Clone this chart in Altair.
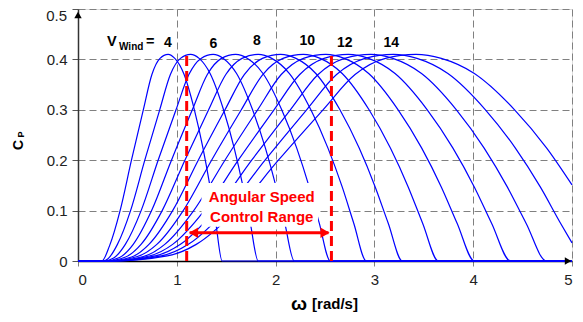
import altair as alt
import pandas as pd

FONT = "Liberation Sans"
BLUE = "#0000FF"
RED = "#FF0000"

# wind speeds (m/s)
V_WIND = [4, 5, 6, 7, 8, 9, 10, 11, 12, 13, 14, 15]

# omega [rad/s] and Cp for each wind speed
W4 = [0, 0.241, 0.319, 0.426, 0.541, 0.661, 0.748, 0.830, 0.912, 0.980, 1.070, 1.178, 1.265, 1.337, 1.395, 1.459, 5.0]
CP4 = [0, 0, 0.03, 0.1, 0.2, 0.3, 0.37, 0.402, 0.41, 0.402, 0.372, 0.30, 0.224, 0.147, 0.075, 0, 0]
W5 = [0, 0.25, 0.301, 0.399, 0.532, 0.676, 0.827, 0.935, 1.037, 1.14, 1.226, 1.337, 1.473, 1.581, 1.671, 1.744, 1.824, 5.0]
CP5 = [0, 0, 0.004, 0.033, 0.1, 0.2, 0.3, 0.37, 0.402, 0.41, 0.402, 0.372, 0.30, 0.224, 0.147, 0.075, 0, 0]
W6 = [0, 0.26, 0.361, 0.479, 0.639, 0.811, 0.992, 1.122, 1.245, 1.368, 1.471, 1.605, 1.767, 1.897, 2.005, 2.093, 2.189, 5.0]
CP6 = [0, 0, 0.006, 0.033, 0.1, 0.2, 0.3, 0.37, 0.402, 0.41, 0.402, 0.372, 0.30, 0.224, 0.147, 0.075, 0, 0]
W7 = [0, 0.27, 0.421, 0.559, 0.745, 0.946, 1.157, 1.309, 1.452, 1.596, 1.716, 1.872, 2.062, 2.214, 2.340, 2.442, 2.554, 5.0]
CP7 = [0, 0, 0.007, 0.033, 0.1, 0.2, 0.3, 0.37, 0.402, 0.41, 0.402, 0.372, 0.30, 0.224, 0.147, 0.075, 0, 0]
W8 = [0, 0.28, 0.482, 0.638, 0.852, 1.082, 1.322, 1.496, 1.660, 1.824, 1.961, 2.140, 2.357, 2.530, 2.674, 2.791, 2.918, 5.0]
CP8 = [0, 0, 0.008, 0.033, 0.1, 0.2, 0.3, 0.37, 0.402, 0.41, 0.402, 0.372, 0.30, 0.224, 0.147, 0.075, 0, 0]
W9 = [0, 0.29, 0.542, 0.718, 0.958, 1.217, 1.488, 1.683, 1.867, 2.052, 2.206, 2.407, 2.651, 2.846, 3.008, 3.140, 3.283, 5.0]
CP9 = [0, 0, 0.008, 0.033, 0.1, 0.2, 0.3, 0.37, 0.402, 0.41, 0.402, 0.372, 0.30, 0.224, 0.147, 0.075, 0, 0]
W10 = [0, 0.30, 0.602, 0.798, 1.065, 1.352, 1.653, 1.870, 2.075, 2.28, 2.451, 2.674, 2.946, 3.162, 3.342, 3.488, 3.648, 5.0]
CP10 = [0, 0, 0.009, 0.033, 0.1, 0.2, 0.3, 0.37, 0.402, 0.41, 0.402, 0.372, 0.30, 0.224, 0.147, 0.075, 0, 0]
W11 = [0, 0.31, 0.662, 0.878, 1.171, 1.487, 1.818, 2.057, 2.282, 2.508, 2.696, 2.942, 3.240, 3.479, 3.677, 3.837, 4.013, 5.0]
CP11 = [0, 0, 0.009, 0.033, 0.1, 0.2, 0.3, 0.37, 0.402, 0.41, 0.402, 0.372, 0.30, 0.224, 0.147, 0.075, 0, 0]
W12 = [0, 0.32, 0.722, 0.958, 1.278, 1.622, 1.984, 2.244, 2.490, 2.736, 2.941, 3.209, 3.535, 3.795, 4.011, 4.186, 4.378, 5.0]
CP12 = [0, 0, 0.010, 0.033, 0.1, 0.2, 0.3, 0.37, 0.402, 0.41, 0.402, 0.372, 0.30, 0.224, 0.147, 0.075, 0, 0]
W13 = [0, 0.33, 0.782, 1.037, 1.384, 1.758, 2.149, 2.430, 2.697, 2.964, 3.186, 3.477, 3.830, 4.111, 4.345, 4.535, 4.742, 5.0]
CP13 = [0, 0, 0.010, 0.033, 0.1, 0.2, 0.3, 0.37, 0.402, 0.41, 0.402, 0.372, 0.30, 0.224, 0.147, 0.075, 0, 0]
W14 = [0, 0.34, 0.843, 1.117, 1.491, 1.893, 2.314, 2.617, 2.905, 3.192, 3.431, 3.744, 4.124, 4.427, 4.679, 4.884, 5.0]
CP14 = [0, 0, 0.010, 0.033, 0.1, 0.2, 0.3, 0.37, 0.402, 0.41, 0.402, 0.372, 0.30, 0.224, 0.147, 0.075, 0.036]
W15 = [0, 0.35, 0.903, 1.197, 1.597, 2.028, 2.480, 2.804, 3.112, 3.42, 3.677, 4.012, 4.419, 4.744, 5.0]
CP15 = [0, 0, 0.010, 0.033, 0.1, 0.2, 0.3, 0.37, 0.402, 0.41, 0.402, 0.372, 0.30, 0.224, 0.151]

# wind-speed labels above the peaks
LABEL_TEXT = ["4", "6", "8", "10", "12", "14"]
LABEL_W = [0.91, 1.37, 1.81, 2.32, 2.70, 3.17]
LABEL_CP = [0.433, 0.430, 0.437, 0.436, 0.432, 0.432]

# angular speed control range
RANGE_W = [1.10, 2.565]
RANGE_TOP = 0.415
ARROW_CP = 0.056
ARROW_HEAD_W = [1.17, 2.50]
ARROW_HEAD_SHAPE = ["triangle-left", "triangle-right"]
RANGE_TEXT = ["Angular Speed", "Control Range"]
RANGE_TEXT_W = [1.86, 1.86]
RANGE_TEXT_CP = [0.126, 0.087]
TEXT_BOX_W = [1.25, 2.43]
TEXT_BOX_CP = [0.068, 0.155]

X_TICKS = [0, 1, 2, 3, 4, 5]
Y_TICKS = [0, 0.1, 0.2, 0.3, 0.4, 0.5]

curves = [(4, W4, CP4), (5, W5, CP5), (6, W6, CP6), (7, W7, CP7), (8, W8, CP8),
          (9, W9, CP9), (10, W10, CP10), (11, W11, CP11), (12, W12, CP12),
          (13, W13, CP13), (14, W14, CP14), (15, W15, CP15)]
rows = []
for v, ws, cps in curves:
    for i, (w, c) in enumerate(zip(ws, cps)):
        rows.append({"V": v, "w": w, "cp": c, "i": i})
df = pd.DataFrame(rows)

xs = alt.Scale(domain=[0, 5], nice=False)
ys = alt.Scale(domain=[0, 0.5], nice=False)

x_axis = alt.Axis(values=X_TICKS, format="d", title=None, grid=True,
                  gridDash=[7, 4], gridColor="#808080", gridWidth=1,
                  domainColor="#000000", domainWidth=1.5,
                  tickColor="#808080", tickSize=5, labelPadding=6,
                  labelFontSize=15, labelFont=FONT, labelColor="#222222")
y_axis = alt.Axis(values=Y_TICKS, title=None, grid=True,
                  labelExpr="datum.value == 0 ? '0' : (datum.value > 0.45 ? '' : format(datum.value, '.1f'))",
                  gridDash=[7, 4], gridColor="#808080", gridWidth=1,
                  domainColor="#333333", domainWidth=1.5,
                  tickColor="#555555", tickSize=6, labelPadding=5,
                  labelFontSize=15, labelFont=FONT, labelColor="#222222")

lines = alt.Chart(df).mark_line(color=BLUE, strokeWidth=1.2, interpolate="monotone").encode(
    x=alt.X("w:Q", scale=xs, axis=x_axis),
    y=alt.Y("cp:Q", scale=ys, axis=y_axis),
    detail="V:N",
    order="i:Q",
)

box = pd.DataFrame({"w1": [TEXT_BOX_W[0]], "w2": [TEXT_BOX_W[1]],
                    "c1": [TEXT_BOX_CP[0]], "c2": [TEXT_BOX_CP[1]]})
text_box = alt.Chart(box).mark_rect(color="white", opacity=1).encode(
    x="w1:Q", x2="w2:Q", y="c1:Q", y2="c2:Q")

rng = pd.DataFrame({"w": RANGE_W, "top": [RANGE_TOP] * 2, "bot": [0.0] * 2})
vlines = alt.Chart(rng).mark_rule(color=RED, strokeWidth=3, strokeDash=[10, 5]).encode(
    x="w:Q", y="bot:Q", y2="top:Q")

arr = pd.DataFrame({"w1": [RANGE_W[0] + 0.03], "w2": [RANGE_W[1] - 0.03], "cp": [ARROW_CP]})
arrow_line = alt.Chart(arr).mark_rule(color=RED, strokeWidth=3).encode(
    x="w1:Q", x2="w2:Q", y="cp:Q")

heads = pd.DataFrame({"w": ARROW_HEAD_W, "cp": [ARROW_CP] * 2, "s": ARROW_HEAD_SHAPE})
arrow_heads = alt.Chart(heads).mark_point(filled=True, color=RED, opacity=1, size=110).encode(
    x="w:Q", y="cp:Q", shape=alt.Shape("s:N", scale=None))

rtext = pd.DataFrame({"t": RANGE_TEXT, "w": RANGE_TEXT_W, "cp": RANGE_TEXT_CP})
range_text = alt.Chart(rtext).mark_text(color=RED, font=FONT, fontSize=15, fontWeight="bold").encode(
    x="w:Q", y="cp:Q", text="t:N")

lab = pd.DataFrame({"t": LABEL_TEXT, "w": LABEL_W, "cp": LABEL_CP})
labels = alt.Chart(lab).mark_text(color="#000000", font=FONT, fontSize=14, fontWeight="bold").encode(
    x="w:Q", y="cp:Q", text="t:N")

one = pd.DataFrame({"a": [0]})
def txt(s, x, y, size, angle=0, align="center", baseline="middle", bold=True, color="#000000"):
    return alt.Chart(one).mark_text(text=s, font=FONT, fontSize=size,
                                    fontWeight="bold" if bold else "normal",
                                    angle=angle, align=align, baseline=baseline, color=color).encode(
        x=alt.value(x), y=alt.value(y))

# top y tick label, nudged so that it stays inside the page
top_label = txt("0.5", -11, 7, 15, align="right", bold=False, color="#222222")

vwind = (txt("V", 29, 33, 14.5, align="left") + txt("Wind", 41, 37.5, 10, align="left")
         + txt("=", 68, 33, 14.5, align="left"))
ytitle = txt("C", -59, 136, 14, angle=270) + txt("P", -57, 125.5, 9, angle=270)
xtitle = (txt("ω", 221, 301, 19, baseline="alphabetic")
          + txt("[rad/s]", 257, 294.5, 15))

up_arrow = alt.Chart(one).mark_point(shape="triangle-up", filled=True, color="#000000",
                                     opacity=1, size=55).encode(x=alt.value(0), y=alt.value(6))
right_arrow = alt.Chart(one).mark_point(shape="triangle-right", filled=True, color="#000000",
                                        opacity=1, size=55).encode(x=alt.value(490), y=alt.value(252))

chart = alt.layer(
    lines, text_box, vlines, arrow_line, arrow_heads, range_text, labels,
    vwind, ytitle, xtitle, top_label, up_arrow, right_arrow,
).properties(
    width=494, height=252,
    autosize=alt.AutoSizeParams(type="none"),
    padding={"left": 70, "top": 1, "right": 3, "bottom": 53},
).configure_view(stroke="#8c8c8c", strokeWidth=1).configure(background="white")

chart.save("out.html", embed_options={"renderer": "svg", "actions": False})
